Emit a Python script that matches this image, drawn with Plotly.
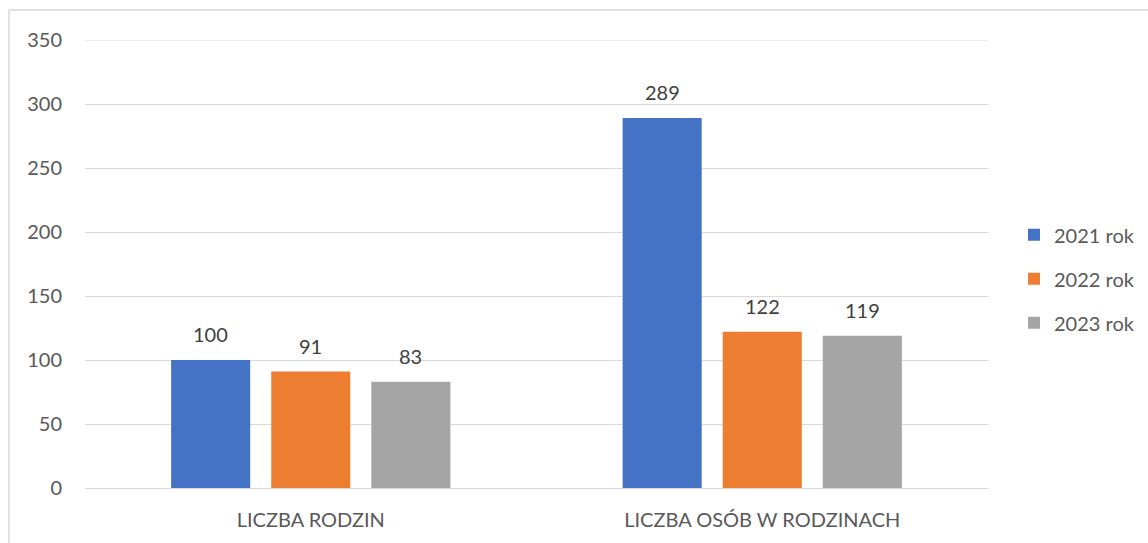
import plotly.graph_objects as go

categories = ["LICZBA RODZIN", "LICZBA OSÓB W RODZINACH"]
series_names = ["2021 rok", "2022 rok", "2023 rok"]
values_2021 = [100, 289]
values_2022 = [91, 122]
values_2023 = [83, 119]
colors = ["#4472C4", "#ED7D31", "#A5A5A5"]
y_ticks = [0, 50, 100, 150, 200, 250, 300, 350]

all_values = [values_2021, values_2022, values_2023]
FONT = "Lato, Open Sans, sans-serif"

fig = go.Figure()
for i, (name, vals, col) in enumerate(zip(series_names, all_values, colors)):
    fig.add_trace(go.Bar(
        x=categories, y=vals, name=name, marker=dict(color=col, line=dict(width=0)),
        legendgroup=name,
    ))
    for c, v in zip(categories, vals):
        fig.add_annotation(
            x=c, y=v, text=str(v), showarrow=False, yanchor="bottom",
            xshift=(i - 1) * 100, yshift=12,
            font=dict(family=FONT, size=20, color="#404040"),
        )

shapes = [dict(type="rect", xref="paper", yref="paper",
               x0=(9 - 85) / 903, x1=(1160 - 85) / 903,
               y0=-(560 - 488) / 448, y1=1 + (40 - 10) / 448,
               line=dict(color="#D9D9D9", width=1.5), fillcolor="rgba(0,0,0,0)",
               layer="below")]
# top gridline (plotly omits it at the range edge)
shapes.append(dict(type="line", xref="paper", yref="y", x0=0, x1=1,
                   y0=max(y_ticks), y1=max(y_ticks),
                   line=dict(color="#D9D9D9", width=1), layer="below"))

fig.update_layout(
    width=1148, height=543,
    margin=dict(l=85, r=160, t=40, b=55, autoexpand=False),
    paper_bgcolor="white", plot_bgcolor="white",
    barmode="group", bargap=0.335, bargroupgap=0.21,
    font=dict(family=FONT, size=20, color="#595959"),
    legend=dict(
        xref="container", x=1014 / 1148, y=0.467, xanchor="left", yanchor="middle",
        font=dict(family=FONT, size=20, color="#595959"),
        tracegroupgap=15, itemwidth=30,
    ),
    xaxis=dict(showgrid=False, showline=True, linecolor="#D9D9D9", linewidth=1,
               ticks="", ticklabelstandoff=14, tickfont=dict(size=20)),
    yaxis=dict(range=[0, 350], tickvals=y_ticks, showgrid=True, gridcolor="#D9D9D9",
               gridwidth=1, zeroline=False, ticks="", ticklabelstandoff=22,
               tickfont=dict(size=20)),
    shapes=shapes,
)

fig.write_html("out.html", config={"displayModeBar": False},
               post_script="document.body.style.margin='0';document.body.style.overflow='hidden';")
